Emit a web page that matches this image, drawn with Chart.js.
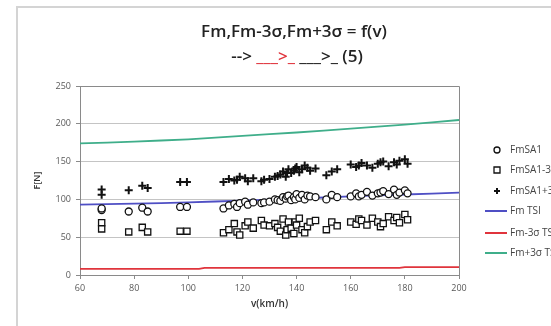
<!DOCTYPE html>
<html lang="en">
<head>
  <meta charset="UTF-8">
  <title>Fm = f(v)</title>
  <script src="https://cdn.jsdelivr.net/npm/chart.js"></script>
  <style>
    html, body { margin: 0; padding: 0; background: #fff; overflow: hidden; }
    #wrap { position: relative; width: 551px; height: 326px; }
  </style>
</head>
<body>
  <div id="wrap"><canvas id="chart" width="551" height="326"></canvas></div>

  <script>
    // measured points (km/h, N)
    const speed = [68, 68, 78, 83, 85, 97, 99.5, 113, 115, 117, 118, 119, 121, 122, 124, 127, 128, 130, 132, 133, 134, 135, 136, 136.5, 137, 138, 139, 139.5, 140, 141, 142, 143, 144, 145, 147, 151, 153, 155, 160, 162, 163, 164, 166, 168, 170, 171, 172, 174, 176, 177, 178, 180, 181];
    const fmSA1 = [86, 88, 84, 89, 84, 90, 90, 88, 92, 94, 90, 95, 97, 93, 96, 95, 96, 97, 100, 99, 98, 103, 101, 104, 105, 99, 103, 100, 107, 102, 106, 100, 105, 104, 103, 100, 106, 103, 104, 108, 104, 106, 110, 105, 108, 109, 111, 107, 113, 106, 109, 112, 108];
    const fmSA1Minus = [69, 61, 57, 63, 57, 58, 58, 56, 60, 68, 57, 53, 65, 70, 62, 72, 66, 65, 68, 63, 58, 74, 53, 60, 70, 62, 55, 70, 66, 75, 60, 56, 64, 70, 72, 60, 70, 65, 70, 67, 74, 72, 66, 75, 70, 64, 68, 77, 72, 76, 69, 80, 73];
    const fmSA1Plus = [113, 106, 112, 118, 115, 123, 123, 123, 127, 125, 126, 130, 128, 124, 128, 124, 126, 127, 130, 131, 133, 137, 130, 135, 140, 135, 138, 141, 143, 136, 140, 145, 142, 138, 141, 132, 137, 140, 146, 143, 145, 148, 145, 142, 147, 149, 150, 144, 149, 146, 151, 153, 147];

    // TSI curves
    const tsiSpeed = [60, 80, 100, 120, 140, 160, 180, 200];
    const fmTsi = [93, 94.5, 96, 98.5, 101, 104, 106.5, 109];
    const fmPlusTsi = [174, 176.5, 179.5, 184, 188.5, 193.5, 199, 205];
    const minusSpeed = [60, 104, 106, 178, 180, 200];
    const fmMinusTsi = [8, 8, 9.5, 9.5, 10.5, 10.5];

    const legendLabels = ['FmSA1', 'FmSA1-3σ', 'FmSA1+3σ', 'Fm TSI', 'Fm-3σ TSI', 'Fm+3σ TSI'];
    const legendY = [150, 170, 191, 211, 233, 253];

    const pts = (xs, ys) => xs.map((x, i) => ({ x: x, y: ys[i] }));
    const FONT = 'Open Sans, Liberation Sans, sans-serif';
    const BLUE = '#4f4fc4', RED = '#e0343c', GREEN = '#3fae8a';

    // title, outer frame and legend drawn by hand (title has mixed colours)
    const decor = {
      id: 'decor',
      beforeDraw(chart) {
        const c = chart.ctx;
        c.save();
        c.strokeStyle = '#d4d4d4';
        c.lineWidth = 2;
        c.beginPath();
        c.moveTo(17, 330); c.lineTo(17, 7); c.lineTo(560, 7);
        c.stroke();
        c.restore();
      },
      afterDraw(chart) {
        const c = chart.ctx;
        const a = chart.chartArea;
        c.save();
        // plot frame top/right
        c.strokeStyle = '#8a8a8a';
        c.lineWidth = 1;
        c.beginPath();
        c.moveTo(a.left, a.top + 0.5); c.lineTo(a.right + 0.5, a.top + 0.5); c.lineTo(a.right + 0.5, a.bottom);
        c.stroke();

        // title
        c.fillStyle = '#222';
        c.textBaseline = 'middle';
        c.textAlign = 'center';
        c.font = '600 17px ' + FONT;
        c.fillText('Fm,Fm-3σ,Fm+3σ = f(v)', 294, 32);

        const parts = [['--> ', '#222'], ['___>_', RED], [' ___>_ (5)', '#222']];
        c.textAlign = 'left';
        let w = 0;
        parts.forEach(p => { w += c.measureText(p[0]).width; });
        let x = 297 - w / 2;
        parts.forEach(p => {
          c.fillStyle = p[1];
          c.fillText(p[0], x, 57);
          x += c.measureText(p[0]).width;
        });

        // legend
        c.font = '10px ' + FONT;
        c.textBaseline = 'middle';
        chart.data.datasets.forEach((ds, i) => {
          const y = legendY[i];
          if (ds.showLine) {
            c.strokeStyle = ds.borderColor;
            c.lineWidth = 2;
            c.beginPath(); c.moveTo(485, y); c.lineTo(507, y); c.stroke();
          } else {
            c.fillStyle = '#fff';
            c.strokeStyle = '#111';
            c.lineWidth = ds.borderWidth;
            c.beginPath();
            if (ds.pointStyle === 'circle') c.arc(497, y, 3, 0, Math.PI * 2);
            else if (ds.pointStyle === 'rect') c.rect(497 - 3, y - 3, 6, 6);
            else { c.moveTo(497 - 3, y); c.lineTo(497 + 3, y); c.moveTo(497, y - 3); c.lineTo(497, y + 3); }
            c.fill(); c.stroke();
          }
          c.fillStyle = '#444';
          c.fillText(legendLabels[i], 510, y);
        });
        c.restore();
      }
    };

    const markers = { borderColor: '#111', backgroundColor: '#fff', borderWidth: 1.3, showLine: false };

    new Chart(document.getElementById('chart'), {
      type: 'scatter',
      data: {
        datasets: [
          Object.assign({ label: legendLabels[0], data: pts(speed, fmSA1), pointStyle: 'circle', pointRadius: 3.5 }, markers),
          Object.assign({ label: legendLabels[1], data: pts(speed, fmSA1Minus), pointStyle: 'rect', pointRadius: 4.4 }, markers),
          { label: legendLabels[2], data: pts(speed, fmSA1Plus), pointStyle: 'cross', pointRadius: 4, borderWidth: 2, borderColor: '#111', showLine: false },
          { label: legendLabels[3], data: pts(tsiSpeed, fmTsi), showLine: true, borderColor: BLUE, borderWidth: 1.8, pointRadius: 0, tension: 0.3 },
          { label: legendLabels[4], data: pts(minusSpeed, fmMinusTsi), showLine: true, borderColor: RED, borderWidth: 1.8, pointRadius: 0 },
          { label: legendLabels[5], data: pts(tsiSpeed, fmPlusTsi), showLine: true, borderColor: GREEN, borderWidth: 1.8, pointRadius: 0, tension: 0.3 }
        ]
      },
      options: {
        responsive: false,
        animation: false,
        events: [],
        layout: { padding: { left: 0, top: 86, right: 92, bottom: 0 } },
        plugins: {
          legend: { display: false },
          tooltip: { enabled: false }
        },
        scales: {
          x: {
            type: 'linear',
            min: 60, max: 200,
            ticks: { stepSize: 20, color: '#595959', font: { size: 9, family: FONT }, padding: 4, maxRotation: 0 },
            grid: { drawOnChartArea: false, tickLength: 4, color: '#8a8a8a' },
            border: { color: '#8a8a8a' },
            title: { display: true, text: 'v(km/h)', color: '#333', font: { size: 10, weight: '600', family: FONT }, padding: { top: 0, bottom: 16 } },
            afterFit: s => { s.height = 51; }
          },
          y: {
            min: 0, max: 250,
            ticks: { stepSize: 50, color: '#595959', font: { size: 9, family: FONT }, padding: 5 },
            grid: { color: '#c4c4c4', tickLength: 4, tickColor: '#8a8a8a' },
            border: { color: '#8a8a8a' },
            title: { display: true, text: 'F[N]', color: '#333', font: { size: 9, weight: '600', family: FONT }, padding: { top: 32, bottom: 0 } },
            afterFit: s => { s.width = 80; }
          }
        }
      },
      plugins: [decor]
    });
  </script>
</body>
</html>
